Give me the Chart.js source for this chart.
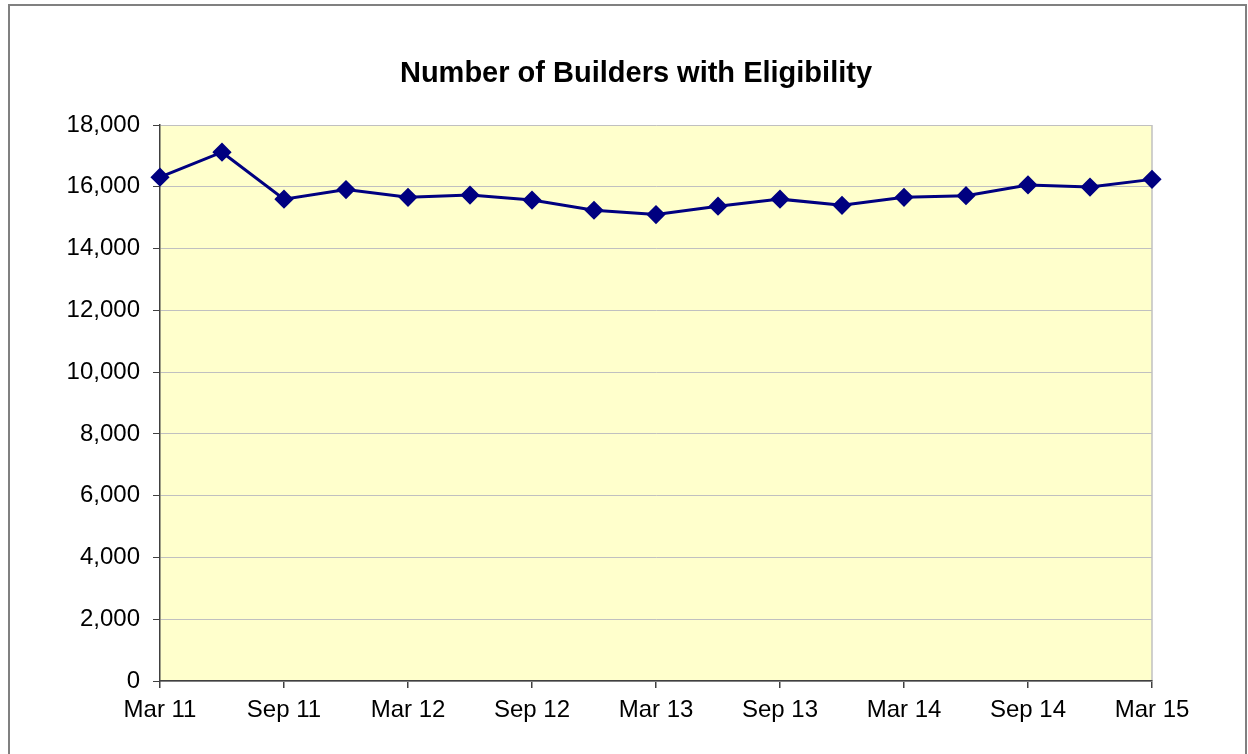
<!DOCTYPE html>
<html>
<head>
<meta charset="utf-8">
<script src="https://cdn.jsdelivr.net/npm/chart.js@4/dist/chart.umd.min.js"></script>
<style>
  html, body { margin: 0; padding: 0; background: #fff; }
  #wrap { width: 1248px; height: 754px; position: relative; }
</style>
</head>
<body>
<div id="wrap"><canvas id="chart" width="1248" height="754"></canvas></div>
<script>
// ——— DATA ———
const chartTitle = 'Number of Builders with Eligibility';
const quarters = ['Mar 11', 'Jun 11', 'Sep 11', 'Dec 11', 'Mar 12', 'Jun 12', 'Sep 12', 'Dec 12',
  'Mar 13', 'Jun 13', 'Sep 13', 'Dec 13', 'Mar 14', 'Jun 14', 'Sep 14', 'Dec 14', 'Mar 15'];
const builders = [16310, 17120, 15600, 15910, 15660, 15730, 15570, 15240,
  15100, 15370, 15600, 15400, 15660, 15710, 16060, 15990, 16240];
const yTicks = [0, 2000, 4000, 6000, 8000, 10000, 12000, 14000, 16000, 18000];

const FONT = "'Liberation Sans', Arial, sans-serif";

// plot background, title and outer frame
const frame = {
  id: 'frame',
  beforeDraw(chart) {
    const { ctx, chartArea: a } = chart;
    ctx.save();
    ctx.fillStyle = '#FFFFCC';
    ctx.fillRect(a.left, a.top, a.right - a.left, a.bottom - a.top);
    ctx.strokeStyle = '#C0C0C0';
    ctx.lineWidth = 1.5;
    ctx.beginPath();
    ctx.moveTo(a.right, a.top);
    ctx.lineTo(a.right, a.bottom);
    ctx.stroke();
    ctx.restore();
  },
  afterDraw(chart) {
    const { ctx } = chart;
    ctx.save();
    ctx.fillStyle = '#000';
    ctx.font = `bold 29px ${FONT}`;
    ctx.textAlign = 'center';
    ctx.textBaseline = 'alphabetic';
    ctx.fillText(chartTitle, 636, 82);
    ctx.strokeStyle = '#808080';
    ctx.lineWidth = 2;
    ctx.beginPath();
    ctx.moveTo(9, 760);
    ctx.lineTo(9, 5);
    ctx.lineTo(1246, 5);
    ctx.lineTo(1246, 760);
    ctx.stroke();
    ctx.restore();
  }
};

new Chart(document.getElementById('chart'), {
  type: 'line',
  data: {
    datasets: [{
      label: 'Builders',
      data: builders.map((v, i) => ({ x: i, y: v })),
      borderColor: '#000080',
      backgroundColor: '#000080',
      borderWidth: 3,
      pointStyle: 'rectRot',
      pointRadius: 7.5,
      pointHoverRadius: 7.5,
      tension: 0,
      clip: false
    }]
  },
  options: {
    responsive: false,
    animation: false,
    layout: { padding: { left: 0, right: 96, top: 125, bottom: 0 } },
    plugins: {
      legend: { display: false },
      tooltip: { enabled: false },
      title: { display: false }
    },
    scales: {
      x: {
        type: 'linear',
        min: 0,
        max: quarters.length - 1,
        afterFit(s) { s.height = 73; },
        afterBuildTicks(s) { s.ticks = quarters.map((q, i) => ({ value: i })).filter(t => t.value % 2 === 0); },
        grid: { display: true, drawOnChartArea: false, tickLength: 7, tickColor: '#404040', lineWidth: 1.5 },
        border: { color: '#404040', width: 1.5 },
        ticks: {
          color: '#000',
          font: { family: FONT, size: 24 },
          padding: 8,
          maxRotation: 0,
          autoSkip: false,
          callback: v => quarters[v]
        }
      },
      y: {
        min: 0,
        max: 18000,
        afterFit(s) { s.width = 160; },
        afterBuildTicks(s) { s.ticks = yTicks.map(v => ({ value: v })); },
        grid: { color: '#C0C0C0', lineWidth: 1, tickLength: 7, tickColor: '#404040' },
        border: { color: '#404040', width: 1.5 },
        ticks: {
          color: '#000',
          font: { family: FONT, size: 24 },
          padding: 13,
          callback: v => v.toLocaleString('en-US')
        }
      }
    }
  },
  plugins: [frame]
});
</script>
</body>
</html>
